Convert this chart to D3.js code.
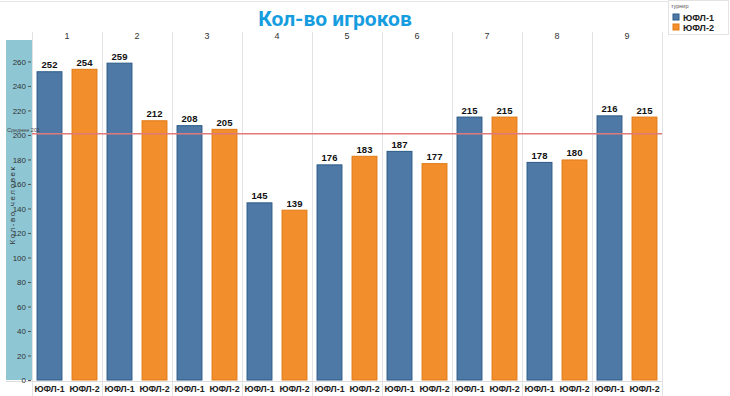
<!DOCTYPE html>
<html lang="ru">
<head>
<meta charset="UTF-8"/>
<title>Кол-во игроков</title>
<script src="https://d3js.org/d3.v7.min.js"></script>
<style>
  body { margin: 0; background: #fff; }
  svg { font-family: "Liberation Sans", Arial, sans-serif; }
</style>
</head>
<body>
<script>
// data
var rounds = ["1", "2", "3", "4", "5", "6", "7", "8", "9"];
var leagues = ["ЮФЛ-1", "ЮФЛ-2"];
var yufl1 = [252, 259, 208, 145, 176, 187, 215, 178, 216];
var yufl2 = [254, 212, 205, 139, 183, 177, 215, 180, 215];
var yTicks = [0, 20, 40, 60, 80, 100, 120, 140, 160, 180, 200, 220, 240, 260];

var w = 730, h = 396;
var mLeft = 32, mRight = 662, mTop = 40, mBottom = 380;

var colors = { "ЮФЛ-1": "#4e79a7", "ЮФЛ-2": "#f28e2b" };
var strokes = { "ЮФЛ-1": "#2b5a86", "ЮФЛ-2": "#e07b17" };

var rows = [];
rounds.forEach(function (r, i) {
  rows.push({ round: r, league: leagues[0], value: yufl1[i] });
  rows.push({ round: r, league: leagues[1], value: yufl2[i] });
});
var avg = Math.round(d3.mean(rows, function (d) { return d.value; }));

var svg = d3.select("body").append("svg")
  .attr("width", w).attr("height", h);

var xScale = d3.scaleBand().domain(rounds).range([mLeft, mRight]);
var xInner = d3.scaleBand().domain(leagues).range([0, xScale.bandwidth()]).paddingInner(0.26).paddingOuter(0.13);
var yScale = d3.scaleLinear().domain([0, 277.5]).range([mBottom, mTop]);

// top border
svg.append("line").attr("x1", 0).attr("x2", 668).attr("y1", 1.5).attr("y2", 1.5)
  .attr("stroke", "#e6e6e6");

// y axis panel
svg.append("rect").attr("x", 6).attr("y", mTop).attr("width", mLeft - 6).attr("height", mBottom - mTop)
  .attr("fill", "#8ec6d4");

// panel separators
svg.selectAll("line.sep")
  .data(rounds.concat(["end"]))
  .enter().append("line")
  .attr("class", "sep")
  .attr("x1", function (d, i) { return mLeft + i * xScale.bandwidth() + 0.5; })
  .attr("x2", function (d, i) { return mLeft + i * xScale.bandwidth() + 0.5; })
  .attr("y1", 32).attr("y2", h)
  .attr("stroke", "#e3e3e3");

// bottom line
svg.append("line").attr("x1", 6).attr("x2", mRight).attr("y1", mBottom + 1.5).attr("y2", mBottom + 1.5)
  .attr("stroke", "#dcdcdc");

// round labels
svg.selectAll("text.round")
  .data(rounds)
  .enter().append("text")
  .attr("class", "round")
  .attr("x", function (d) { return xScale(d) + xScale.bandwidth() / 2; })
  .attr("y", 39)
  .attr("text-anchor", "middle")
  .attr("font-size", 9)
  .attr("fill", "#333")
  .text(function (d) { return d; });

// y axis
var yAxis = d3.axisLeft(yScale).tickValues(yTicks).tickSize(3).tickPadding(2);
var gy = svg.append("g").attr("transform", "translate(" + (mLeft - 1) + ",0)").call(yAxis);
gy.select(".domain").remove();
gy.selectAll(".tick line").attr("stroke", "#555");
gy.selectAll(".tick text").attr("font-size", 8).attr("fill", "#333")
  .attr("font-family", "'Liberation Sans', Arial, sans-serif");

// y title
svg.append("text")
  .attr("transform", "translate(15,205) rotate(-90)")
  .attr("text-anchor", "middle")
  .attr("font-size", 8)
  .attr("letter-spacing", 1.6)
  .attr("fill", "#333")
  .text("Кол-во человек");

// bars
var groups = svg.selectAll("g.round")
  .data(rounds)
  .enter().append("g")
  .attr("transform", function (d) { return "translate(" + xScale(d) + ",0)"; });

groups.selectAll("rect")
  .data(function (d) { return rows.filter(function (r) { return r.round === d; }); })
  .enter().append("rect")
  .attr("x", function (d) { return xInner(d.league) + 0.5; })
  .attr("y", function (d) { return yScale(d.value) + 0.5; })
  .attr("width", xInner.bandwidth() - 1)
  .attr("height", function (d) { return mBottom - yScale(d.value) - 0.5; })
  .attr("fill", function (d) { return colors[d.league]; })
  .attr("stroke", function (d) { return strokes[d.league]; })
  .attr("stroke-width", 1);

groups.selectAll("text.val")
  .data(function (d) { return rows.filter(function (r) { return r.round === d; }); })
  .enter().append("text")
  .attr("class", "val")
  .attr("x", function (d) { return xInner(d.league) + xInner.bandwidth() / 2; })
  .attr("y", function (d) { return yScale(d.value) - 3; })
  .attr("text-anchor", "middle")
  .attr("font-size", 9.5)
  .attr("font-weight", "bold")
  .attr("fill", "#111")
  .text(function (d) { return d.value; });

groups.selectAll("text.lg")
  .data(leagues)
  .enter().append("text")
  .attr("class", "lg")
  .attr("x", function (d) { return xInner(d) + xInner.bandwidth() / 2; })
  .attr("y", 392)
  .attr("text-anchor", "middle")
  .attr("font-size", 8.8)
  .attr("font-weight", "bold")
  .attr("fill", "#222")
  .text(function (d) { return d; });

// average line
svg.append("line")
  .attr("x1", mLeft).attr("x2", mRight)
  .attr("y1", yScale(avg)).attr("y2", yScale(avg))
  .attr("stroke", "#e07a7a").attr("stroke-width", 1.5);
svg.append("text")
  .attr("x", 7).attr("y", yScale(avg) - 2)
  .attr("font-size", 5.5)
  .attr("fill", "#444")
  .text("Среднее " + avg);

// title
svg.append("text")
  .attr("x", 335).attr("y", 26)
  .attr("text-anchor", "middle")
  .attr("font-family", "Roboto, 'DejaVu Sans', sans-serif")
  .attr("font-size", 21)
  .attr("font-weight", "bold")
  .attr("fill", "#169de0")
  .text("Кол-во игроков");

// legend
var lg = svg.append("g").attr("transform", "translate(668,0)");
lg.append("rect").attr("x", 0.5).attr("y", 0.5).attr("width", 60).attr("height", 34)
  .attr("fill", "#fff").attr("stroke", "#e3e3e3");
lg.append("text").attr("x", 3).attr("y", 8).attr("font-size", 5.5).attr("fill", "#555").text("турнир");
leagues.forEach(function (d, i) {
  lg.append("rect").attr("x", 5).attr("y", 14 + i * 10).attr("width", 6).attr("height", 6)
    .attr("fill", colors[d]).attr("stroke", strokes[d]);
  lg.append("text").attr("x", 15).attr("y", 20.5 + i * 10)
    .attr("font-size", 9).attr("font-weight", "bold").attr("fill", "#222").text(d);
});
</script>
</body>
</html>
